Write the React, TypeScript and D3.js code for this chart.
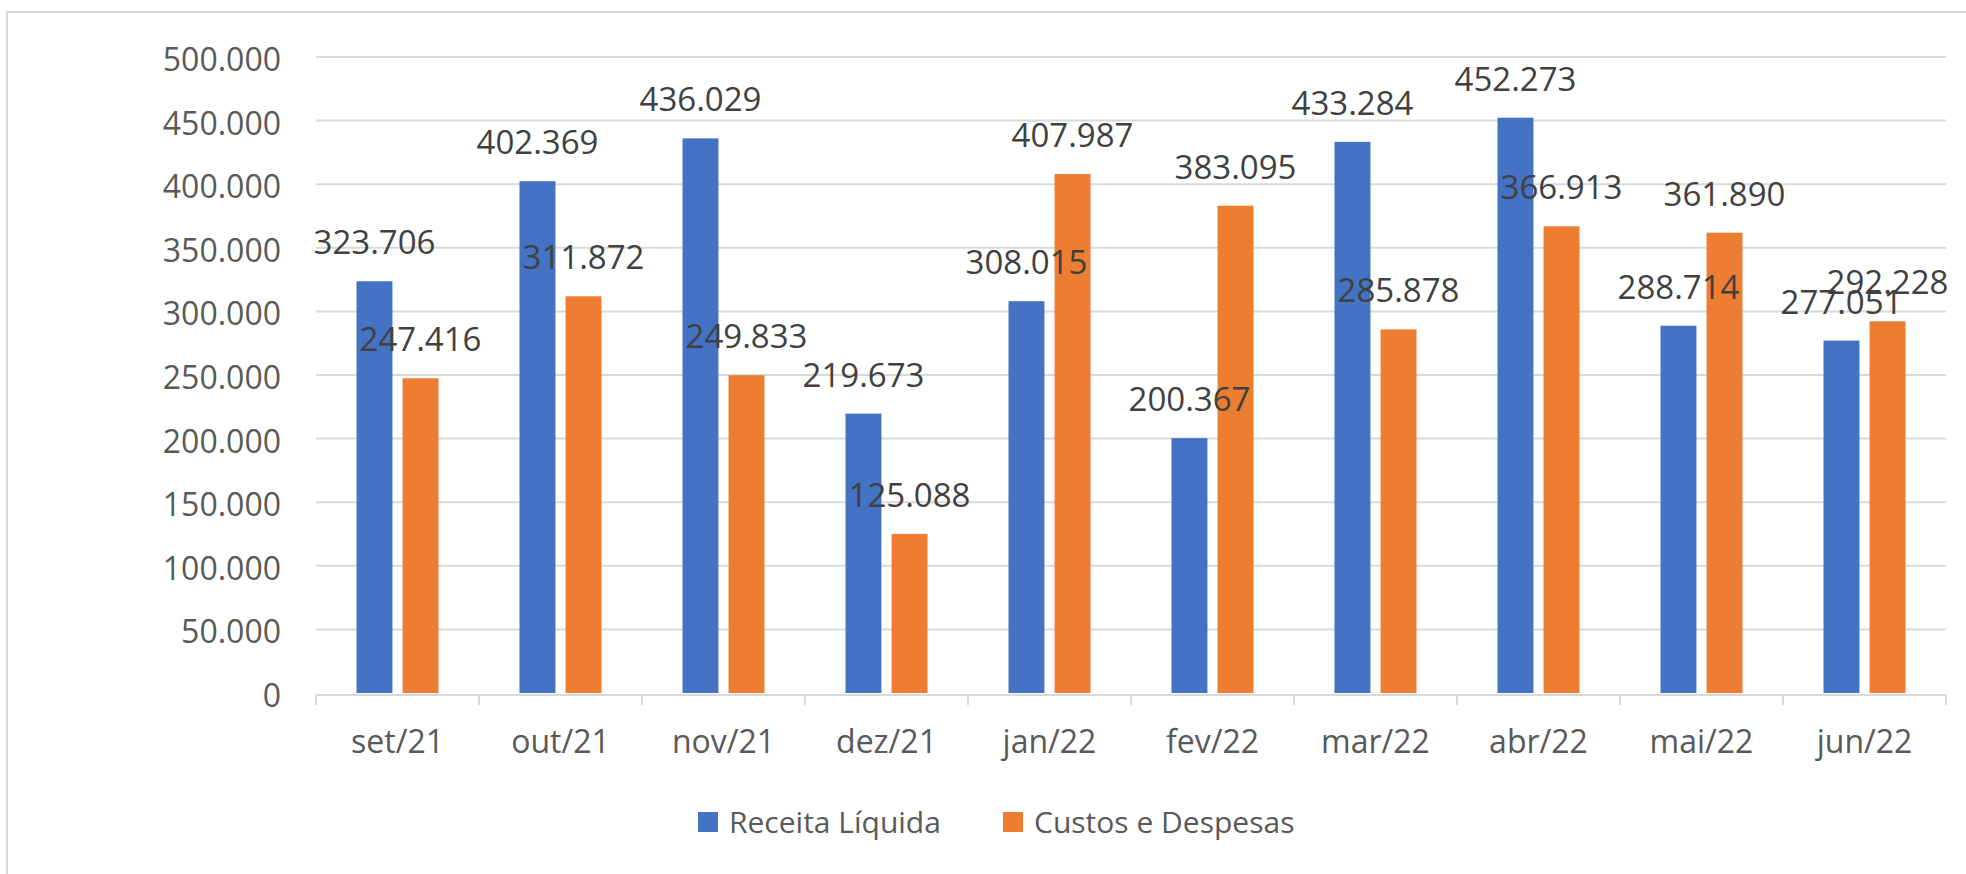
import React, { useEffect, useRef } from 'react';
import * as d3 from 'd3';

const months = ['set/21', 'out/21', 'nov/21', 'dez/21', 'jan/22', 'fev/22', 'mar/22', 'abr/22', 'mai/22', 'jun/22'];
const receita = [323706, 402369, 436029, 219673, 308015, 200367, 433284, 452273, 288714, 277051];
const custos = [247416, 311872, 249833, 125088, 407987, 383095, 285878, 366913, 361890, 292228];
const seriesNames = ['Receita Líquida', 'Custos e Despesas'];
const yTicks = [0, 50000, 100000, 150000, 200000, 250000, 300000, 350000, 400000, 450000, 500000];

const colors = ['#4472C4', '#ED7D31'];
const font = '"Open Sans", sans-serif';

const fmt = (v: number) => (v === 0 ? '0' : d3.format(',.0f')(v).replace(/,/g, '.'));

const App = () => {
  const svgRef = useRef<SVGSVGElement>(null);

  useEffect(() => {
    const w = 1966;
    const h = 874;
    const svg = d3.select(svgRef.current);
    svg.selectAll('*').remove();
    svg.attr('width', w).attr('height', h);

    // chart border
    svg.append('rect')
      .attr('x', 7).attr('y', 12)
      .attr('width', 1980).attr('height', 900)
      .attr('fill', '#fff')
      .attr('stroke', '#d9d9d9')
      .attr('stroke-width', 2);

    const x0 = d3.scaleBand<string>().domain(months).range([316, 1946]);
    const x1 = d3.scaleBand<string>()
      .domain(seriesNames)
      .range([x0.bandwidth() / 2 - 41, x0.bandwidth() / 2 + 41])
      .paddingInner(0.22);
    const y = d3.scaleLinear().domain([0, 500000]).range([693, 57]);

    // gridlines
    svg.append('g')
      .selectAll('line')
      .data(yTicks.slice(1))
      .join('line')
      .attr('x1', 316).attr('x2', 1946)
      .attr('y1', d => y(d)).attr('y2', d => y(d))
      .attr('stroke', '#d9d9d9')
      .attr('stroke-width', 2);

    // y labels
    svg.append('g')
      .selectAll('text')
      .data(yTicks)
      .join('text')
      .attr('x', 281)
      .attr('y', d => y(d) + 14)
      .attr('text-anchor', 'end')
      .attr('font-family', font)
      .attr('font-size', 32)
      .attr('fill', '#595959')
      .text(d => fmt(d));

    // bars
    const data = months.map((m, i) => ({ m, vals: [receita[i], custos[i]] }));
    const groups = svg.append('g')
      .selectAll('g')
      .data(data)
      .join('g')
      .attr('transform', d => `translate(${x0(d.m)},0)`);

    groups.selectAll('rect')
      .data(d => d.vals.map((v, k) => ({ v, k })))
      .join('rect')
      .attr('x', d => x1(seriesNames[d.k])!)
      .attr('width', x1.bandwidth())
      .attr('y', d => y(d.v))
      .attr('height', d => y(0) - y(d.v))
      .attr('fill', d => colors[d.k]);

    // x axis
    const axisY = y(0) + 2;
    svg.append('line')
      .attr('x1', 316).attr('x2', 1946)
      .attr('y1', axisY).attr('y2', axisY)
      .attr('stroke', '#d9d9d9').attr('stroke-width', 2);
    const edges = months.map(m => x0(m)!).concat([x0.range()[1]]);
    svg.append('g')
      .selectAll('line')
      .data(edges)
      .join('line')
      .attr('x1', d => d).attr('x2', d => d)
      .attr('y1', axisY).attr('y2', axisY + 10)
      .attr('stroke', '#d9d9d9').attr('stroke-width', 2);

    svg.append('g')
      .selectAll('text')
      .data(months)
      .join('text')
      .attr('x', d => x0(d)! + x0.bandwidth() / 2)
      .attr('y', 753)
      .attr('text-anchor', 'middle')
      .attr('font-family', font)
      .attr('font-size', 32)
      .attr('fill', '#595959')
      .text(d => d);

    // data labels (drawn after all bars so they overlap like the original)
    groups.selectAll('text')
      .data(d => d.vals.map((v, k) => ({ v, k })))
      .join('text')
      .attr('x', d => x1(seriesNames[d.k])! + x1.bandwidth() / 2)
      .attr('y', d => y(d.v) - 27)
      .attr('text-anchor', 'middle')
      .attr('font-family', font)
      .attr('font-size', 33)
      .attr('fill', '#404040')
      .text(d => fmt(d.v));

    // legend
    const legend = svg.append('g');
    const legendX = [698, 1003];
    seriesNames.forEach((name, k) => {
      legend.append('rect')
        .attr('x', legendX[k]).attr('y', 812)
        .attr('width', 20).attr('height', 20)
        .attr('fill', colors[k]);
      legend.append('text')
        .attr('x', legendX[k] + 31).attr('y', 833)
        .attr('font-family', font)
        .attr('font-size', 30)
        .attr('fill', '#595959')
        .text(name);
    });
  }, []);

  return (
    <div style={{ position: 'absolute', left: 0, top: 0, width: 1966, height: 874, overflow: 'hidden', background: '#fff' }}>
      <svg ref={svgRef} style={{ display: 'block' }}></svg>
    </div>
  );
};

export default App;
